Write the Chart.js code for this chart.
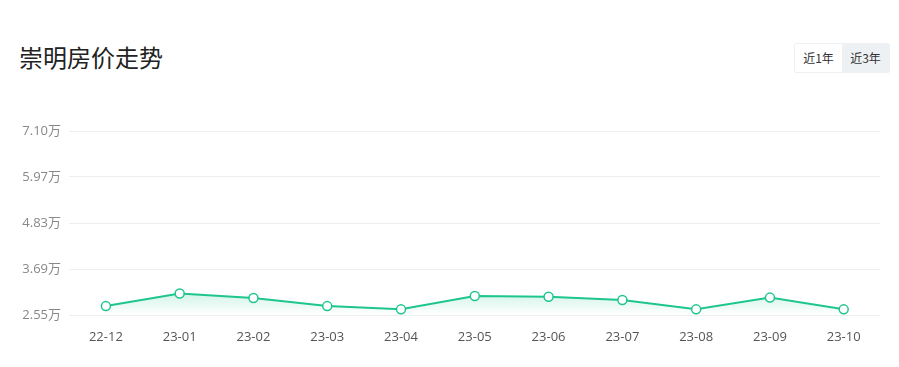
<!DOCTYPE html>
<html>
<head>
<meta charset="utf-8">
<script src="https://cdn.jsdelivr.net/npm/chart.js@4"></script>
<style>
  body { margin: 0; background: #fff; font-family: "Noto Sans CJK SC", sans-serif; }
  #wrap { position: relative; width: 899px; height: 367px; }
  #title { position: absolute; left: 19px; top: 41px; font-size: 24px; color: #222; line-height: 32px; }
  #btns { position: absolute; left: 794px; top: 43px; display: flex; border: 1px solid #eef0f2; border-radius: 2px; }
  #btns span { display: block; width: 47px; height: 28px; line-height: 28px; text-align: center; font-size: 12px; color: #333; }
  #btns span.on { background: #eef1f4; }
  #box { position: absolute; left: 0; top: 0; width: 899px; height: 367px; }
</style>
</head>
<body>
<div id="wrap">
  <div id="title">崇明房价走势</div>
  <div id="btns"><span>近1年</span><span class="on">近3年</span></div>
  <div id="box"><canvas id="priceChart"></canvas></div>
</div>
<script>
const months = ['22-12','23-01','23-02','23-03','23-04','23-05','23-06','23-07','23-08','23-09','23-10'];
const prices = [2.77, 3.08, 2.97, 2.77, 2.69, 3.02, 3.00, 2.92, 2.69, 2.98, 2.69];
const yTicks = [2.55, 3.6875, 4.825, 5.9625, 7.10];
const yLabels = ['2.55万', '3.69万', '4.83万', '5.97万', '7.10万'];

const green = '#1fc68b';
const font = { family: '"Open Sans", "Noto Sans CJK SC", sans-serif', size: 13 };

const ctx = document.getElementById('priceChart');
new Chart(ctx, {
  type: 'line',
  data: {
    labels: months,
    datasets: [{
      data: prices,
      borderColor: green,
      borderWidth: 2,
      tension: 0,
      fill: 'start',
      backgroundColor: (c) => {
        const area = c.chart.chartArea;
        if (!area) return 'rgba(31,198,139,0.15)';
        const g = c.chart.ctx.createLinearGradient(0, area.bottom - 24, 0, area.bottom);
        g.addColorStop(0, 'rgba(31,198,139,0.22)');
        g.addColorStop(1, 'rgba(31,198,139,0)');
        return g;
      },
      pointRadius: 4.5,
      pointHoverRadius: 4.5,
      pointBackgroundColor: '#fff',
      pointBorderColor: green,
      pointBorderWidth: 1.5
    }]
  },
  options: {
    responsive: true,
    maintainAspectRatio: false,
    animation: false,
    layout: { padding: { top: 131, right: 18.4, bottom: 0, left: 0 } },
    plugins: { legend: { display: false }, tooltip: { enabled: false } },
    scales: {
      x: {
        offset: true,
        grid: { display: false },
        border: { display: false },
        ticks: { color: '#555', font: font, padding: 6, maxRotation: 0 },
        afterFit: (s) => { s.height = 52; }
      },
      y: {
        min: 2.55,
        max: 7.10,
        grid: { color: '#eeeeee', drawTicks: false },
        border: { display: false },
        ticks: {
          color: '#888',
          font: font,
          padding: 8,
          callback: (v, i) => yLabels[i]
        },
        afterBuildTicks: (s) => { s.ticks = yTicks.map(v => ({ value: v })); },
        afterFit: (s) => { s.width = 69; }
      }
    }
  }
});
</script>
</body>
</html>
